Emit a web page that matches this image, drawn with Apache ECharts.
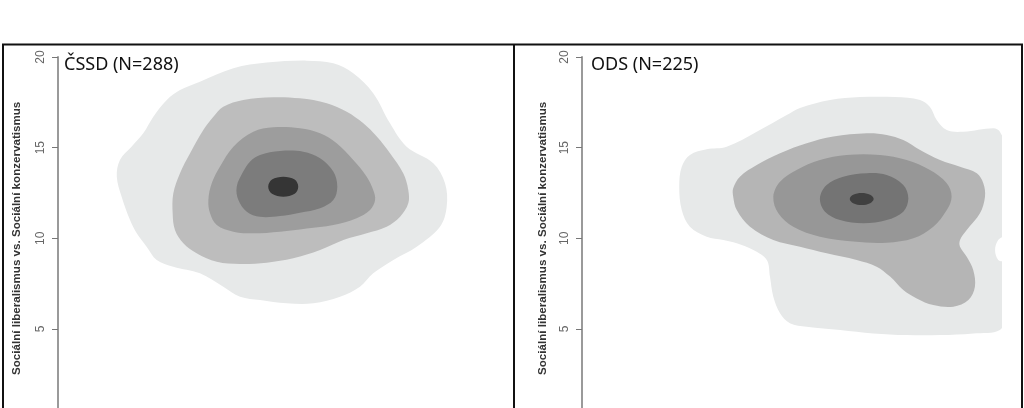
<!DOCTYPE html>
<html>
<head>
<meta charset="utf-8">
<script src="https://cdn.jsdelivr.net/npm/echarts@6/dist/echarts.min.js"></script>
<style>
html,body{margin:0;padding:0;background:#fff;}
#chart{width:1024px;height:408px;}
</style>
</head>
<body>
<div id="chart"></div>
<script>
// ---- Data (contour outlines in data units: [x, y]) ----
const yTicks = [0, 5, 10, 15, 20];
const yAxisTitle = 'Sociální liberalismus vs. Sociální konzervatismus';
const panelTitles = ['ČSSD (N=288)', 'ODS (N=225)'];

const cssdLevel1 = [[6.76,18.64],[8.35,19.38],[9.94,19.69],[11.84,19.80],[13.11,19.65],[14.06,19.10],[15.01,18.00],[15.81,16.34],[16.60,15.05],[17.87,14.14],[18.43,13.04],[18.51,11.75],[18.19,10.64],[17.08,9.54],[15.97,8.81],[15.01,8.07],[14.38,7.33],[13.43,6.78],[12.16,6.42],[10.89,6.42],[9.62,6.60],[8.67,6.78],[7.87,7.33],[6.76,8.07],[5.49,8.44],[4.70,8.81],[4.22,9.54],[3.75,10.28],[3.43,11.01],[3.03,12.30],[2.80,13.40],[2.95,14.32],[3.50,15.05],[4.06,15.79],[4.54,16.71],[5.18,17.63],[5.81,18.18]];
const cssdLevel2 = [[7.87,17.26],[8.82,17.63],[10.25,17.78],[11.52,17.72],[12.80,17.45],[13.75,16.98],[14.54,16.34],[15.18,15.61],[15.81,14.69],[16.44,13.59],[16.68,12.67],[16.68,11.93],[16.29,11.19],[15.65,10.64],[14.70,10.28],[13.59,9.91],[12.48,9.36],[11.20,8.90],[9.94,8.66],[8.67,8.59],[7.56,8.71],[6.60,9.18],[5.97,9.73],[5.57,10.46],[5.46,11.38],[5.49,12.48],[5.81,13.59],[6.29,14.69],[6.92,15.97],[7.40,16.71]];
const cssdLevel3 = [[9.30,15.88],[10.25,16.12],[11.52,16.07],[12.48,15.79],[13.27,15.24],[14.06,14.32],[14.70,13.40],[15.01,12.67],[15.10,12.11],[14.86,11.56],[14.22,11.11],[13.11,10.74],[11.84,10.55],[10.57,10.37],[9.30,10.28],[8.35,10.37],[7.56,10.74],[7.24,11.38],[7.16,12.11],[7.32,13.04],[7.71,13.95],[8.35,15.05]];
const cssdLevel4 = [[9.62,14.60],[10.57,14.82],[11.68,14.78],[12.48,14.41],[13.11,13.68],[13.30,12.85],[13.11,12.11],[12.48,11.66],[11.52,11.41],[10.57,11.23],[9.62,11.19],[8.99,11.47],[8.59,12.11],[8.51,12.85],[8.82,13.68],[9.14,14.23]];
const cssdLevel5 = [[10.01,12.85],[10.19,13.24],[10.73,13.40],[11.27,13.24],[11.44,12.85],[11.27,12.46],[10.73,12.30],[10.19,12.46]];

const odsLevel1 = [[4.63,12.85],[4.75,13.95],[5.14,14.60],[5.94,14.91],[6.89,15.05],[8.32,15.88],[9.75,16.80],[10.38,17.19],[11.81,17.63],[13.24,17.79],[14.90,17.79],[16.10,17.63],[16.57,17.24],[16.89,16.53],[17.37,15.97],[18.16,15.88],[19.59,16.07],[19.90,15.88],[20.2,14.87],[20.2,10.28],[19.82,9.91],[19.67,9.36],[19.82,8.81],[20.2,8.62],[20.2,5.87],[19.90,4.95],[18.63,4.76],[17.05,4.67],[15.46,4.67],[13.87,4.76],[12.29,4.95],[10.70,5.13],[9.90,5.32],[9.43,5.87],[9.11,6.78],[8.95,7.89],[8.80,8.81],[8.16,9.36],[7.37,9.73],[6.73,9.91],[5.94,10.09],[5.14,10.64],[4.75,11.56]];
const odsLevel2 = [[7.20,12.76],[7.52,13.40],[8.32,14.04],[9.43,14.69],[10.70,15.24],[11.97,15.61],[13.56,15.79],[14.51,15.70],[15.30,15.42],[16.10,14.87],[17.05,14.32],[18.00,13.95],[18.80,13.59],[19.11,13.04],[19.19,12.30],[18.95,11.38],[18.32,10.46],[18.00,9.91],[18.00,9.54],[18.32,8.99],[18.63,8.25],[18.71,7.33],[18.40,6.60],[17.68,6.23],[16.73,6.32],[15.94,6.69],[15.30,7.15],[14.67,7.89],[14.03,8.44],[13.08,8.81],[11.65,9.18],[10.38,9.54],[9.11,9.91],[8.00,10.64],[7.37,11.56],[7.20,12.30]];
const odsLevel3 = [[9.11,12.30],[9.43,13.12],[10.22,13.77],[11.33,14.32],[12.60,14.60],[14.19,14.60],[15.46,14.32],[16.57,13.77],[17.37,13.04],[17.60,12.30],[17.37,11.56],[16.73,10.64],[15.78,10.00],[14.51,9.76],[12.92,9.82],[11.33,10.09],[10.06,10.64],[9.35,11.38]];
const odsLevel4 = [[11.33,12.21],[11.65,12.94],[12.44,13.40],[13.56,13.59],[14.51,13.49],[15.30,12.94],[15.54,12.21],[15.30,11.47],[14.51,11.01],[13.40,10.83],[12.29,11.01],[11.57,11.47]];
const odsLevel5 = [[12.75,12.17],[12.91,12.40],[13.32,12.50],[13.72,12.40],[13.89,12.17],[13.72,11.94],[13.32,11.84],[12.91,11.94]];

const cssdColors = ['#e7e9e9','#bdbdbd','#9d9d9d','#7c7c7c','#353535'];
const odsColors  = ['#e7e9e9','#b5b5b5','#979797','#747474','#404040'];

const panels = [
  {levels:[cssdLevel1,cssdLevel2,cssdLevel3,cssdLevel4,cssdLevel5], colors:cssdColors},
  {levels:[odsLevel1,odsLevel2,odsLevel3,odsLevel4,odsLevel5], colors:odsColors}
];

// ---- Chart ----
const chart = echarts.init(document.getElementById('chart'), null, {renderer:'canvas'});

const gridLefts = [58, 582];
const grids = gridLefts.map(l => ({left:l, width:420, top:57, height:362.7, containLabel:false, outerBoundsMode:'none'}));
const xAxes = gridLefts.map((l,i) => ({type:'value', gridIndex:i, min:0, max:20, show:false}));
const yAxes = gridLefts.map((l,i) => ({
  type:'value', gridIndex:i, min:yTicks[0], max:yTicks[yTicks.length-1], interval:5,
  axisLine:{show:true, lineStyle:{color:'#9a9a9a', width:2}},
  axisTick:{show:true, length:6, lineStyle:{color:'#777', width:1}},
  splitLine:{show:false},
  axisLabel:{rotate:90, fontSize:12, color:'#666', margin:11, fontFamily:'Liberation Sans'},
  name:yAxisTitle, nameLocation:'middle', nameRotate:90, nameGap: i===0 ? 35 : 33,
  nameTextStyle:{fontSize:11.6, fontWeight:'bold', color:'#333', fontFamily:'Liberation Sans'}
}));

const series = [];
panels.forEach((p, pi) => {
  p.levels.forEach((pts, li) => {
    series.push({
      type:'custom', xAxisIndex:pi, yAxisIndex:pi, silent:true, clip:true,
      data:[pts[0]],
      renderItem:function(params, api){
        return {
          type:'polygon',
          shape:{points: pts.map(pt => api.coord(pt)), smooth:0.35},
          style:{fill:p.colors[li], stroke:null}
        };
      },
      z: 2 + li
    });
  });
});

const frame = '#111';
const option = {
  animation:false,
  backgroundColor:'#fff',
  grid:grids, xAxis:xAxes, yAxis:yAxes,
  title:[
    {text:panelTitles[0], left:59, top:51, textStyle:{fontSize:18, fontWeight:'normal', color:'#111', fontFamily:'Noto Sans'}},
    {text:panelTitles[1], left:586, top:51, textStyle:{fontSize:18, fontWeight:'normal', color:'#111', fontFamily:'Noto Sans'}}
  ],
  graphic:[
    {type:'line', shape:{x1:2, y1:44.5, x2:1023, y2:44.5}, style:{stroke:frame, lineWidth:2}, z:100},
    {type:'line', shape:{x1:3, y1:44, x2:3, y2:408}, style:{stroke:frame, lineWidth:2}, z:100},
    {type:'line', shape:{x1:514, y1:44, x2:514, y2:408}, style:{stroke:frame, lineWidth:2}, z:100},
    {type:'line', shape:{x1:1022, y1:44, x2:1022, y2:408}, style:{stroke:frame, lineWidth:2}, z:100}
  ],
  series:series
};
chart.setOption(option);
</script>
</body>
</html>
